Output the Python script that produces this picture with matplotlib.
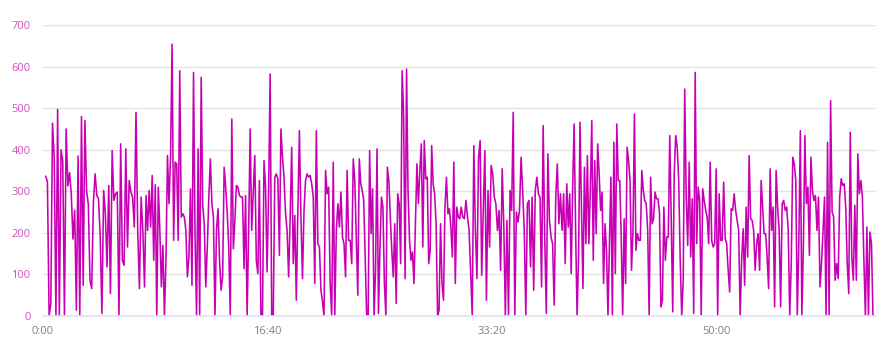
import numpy as np
import matplotlib
matplotlib.use('Agg')
import matplotlib.pyplot as plt
from matplotlib.ticker import FuncFormatter

# power (W), in order, in eight stretches of the ride
watts_a = [336, 323, 0, 30, 464, 380, 0, 497, 0, 400, 373, 0, 450, 313, 345, 294,
           185, 254, 14, 385, 0, 480, 74, 470, 300, 270, 85, 66, 274, 342, 290, 282,
           190, 6, 302, 246, 118, 314, 54, 398, 278, 294, 298, 0, 414, 134, 122, 402,
           166, 326, 298, 286, 214, 490, 206, 66, 286, 206]
watts_b = [70, 290, 206, 302, 214, 338, 134, 316, 0, 310, 206, 70, 170, 0, 134, 386,
           270, 382, 654, 182, 370, 366, 182, 590, 238, 246, 238, 206, 94, 142, 306, 74,
           586, 190, 0, 402, 0, 574, 266, 222, 70, 166, 286, 378, 270, 238, 0, 206,
           258, 134, 62, 94, 358, 310, 250, 166, 0, 474, 162, 230, 314, 310, 290, 286,
           286, 114, 290, 0, 206, 450, 206]
watts_c = [294, 386, 134, 102, 326, 0, 0, 374, 310, 106, 302, 582, 0, 0, 334, 342,
           330, 146, 450, 382, 334, 246, 206, 94, 238, 406, 126, 242, 38, 254, 446, 238,
           90, 254, 326, 342, 334, 338, 318, 286, 78, 446, 174, 166, 62, 34, 0, 350,
           294, 310, 78, 0, 370, 0, 206, 270, 214, 298, 190, 174, 94, 350, 182, 182,
           126, 378, 326]
watts_d = [190, 50, 378, 318, 302, 278, 134, 0, 0, 398, 198, 306, 0, 110, 402, 6,
           166, 286, 262, 78, 0, 358, 326, 238, 158, 94, 222, 30, 294, 270, 126, 590,
           486, 90, 594, 302, 182, 134, 154, 78, 222, 366, 270, 350, 414, 166, 422, 330,
           334, 126, 158, 410, 318, 294, 222, 0, 14, 222, 78, 38, 262, 334, 246, 258,
           214, 142, 370, 78, 262, 238, 234]
watts_e = [262, 238, 234, 278, 238, 206, 102, 0, 410, 206, 90, 382, 422, 98, 254, 398,
           38, 302, 166, 362, 342, 286, 270, 206, 254, 110, 354, 222, 0, 230, 0, 302,
           254, 490, 0, 250, 226, 254, 382, 302, 206, 0, 270, 278, 118, 286, 62, 302,
           334, 294, 286, 70, 458, 190, 6, 390, 230, 190, 174, 26, 286, 366, 222, 294,
           206, 294, 126]
watts_f = [318, 214, 294, 102, 310, 462, 206, 0, 142, 466, 254, 66, 358, 174, 386, 174,
           302, 470, 134, 374, 198, 414, 342, 254, 298, 78, 222, 158, 0, 174, 334, 0,
           418, 102, 462, 326, 326, 190, 0, 234, 78, 406, 374, 326, 110, 206, 486, 158,
           198, 182, 182, 350, 302, 278, 270, 206, 0, 334, 222, 234, 298, 282, 282, 250,
           22, 38, 262, 134, 190, 190, 434]
watts_g = [234, 10, 342, 434, 406, 326, 134, 0, 86, 546, 286, 170, 370, 142, 282, 6,
           586, 174, 310, 278, 0, 306, 278, 254, 238, 174, 370, 182, 166, 174, 354, 0,
           294, 182, 182, 322, 186, 174, 110, 58, 258, 254, 294, 254, 230, 206, 0, 134,
           210, 74, 262, 142, 386, 234, 230, 206, 110, 174, 198, 110, 326, 262, 198, 198,
           142, 66, 354, 206, 262, 22]
watts_h = [350, 262, 206, 22, 270, 278, 254, 262, 206, 0, 126, 382, 366, 326, 0, 174,
           446, 0, 166, 434, 270, 310, 146, 382, 302, 278, 290, 206, 286, 70, 126, 206,
           286, 0, 418, 0, 518, 250, 238, 86, 126, 90, 286, 330, 314, 318, 262, 126,
           54, 442, 142, 86, 266, 86, 390, 294, 326, 286, 134, 0, 214, 0, 202, 174,
           0, 0]

# elapsed time (s) where each stretch begins, and the end of the ride
stretch_start = [12, 452, 936, 1395, 1862, 2332, 2797, 3264]
ride_end = 3702

stretches = [watts_a, watts_b, watts_c, watts_d, watts_e, watts_f, watts_g, watts_h]
bounds = stretch_start + [ride_end]
seconds = []
for i, w in enumerate(stretches):
    last = i == len(stretches) - 1
    seconds.append(np.linspace(bounds[i], bounds[i + 1], len(w), endpoint=last))
seconds = np.concatenate(seconds)
watts = np.concatenate([np.array(w, dtype=float) for w in stretches])

tick_secs = [0, 1000, 2000, 3000]
y_ticks = [0, 100, 200, 300, 400, 500, 600, 700]

line_col = '#c800b4'

plt.rcParams['font.family'] = ['Open Sans', 'DejaVu Sans']

fig = plt.figure(figsize=(8.96, 3.51), dpi=100)
ax = fig.add_axes([0.048, 0.0997, 0.930, 0.829])

ax.plot(seconds, watts, color=line_col, lw=1.15)

ax.set_xlim(0, 3710)
ax.set_ylim(0, 700)
ax.set_yticks(y_ticks)
ax.set_xticks(tick_secs)
ax.xaxis.set_major_formatter(FuncFormatter(lambda s, p: f'{int(s) // 60}:{int(s) % 60:02d}'))

ax.grid(axis='y', color='#e3e3e3', lw=1)
ax.set_axisbelow(True)
for side in ['top', 'right', 'left']:
    ax.spines[side].set_visible(False)
ax.spines['bottom'].set_color('#dfe4f2')
ax.spines['bottom'].set_linewidth(1.2)

ax.tick_params(axis='y', length=0, pad=9, labelsize=8, labelcolor='#d34fc4')
ax.tick_params(axis='x', length=0, pad=7, labelsize=8, labelcolor='#808080')

fig.savefig('out.png', dpi=100)
